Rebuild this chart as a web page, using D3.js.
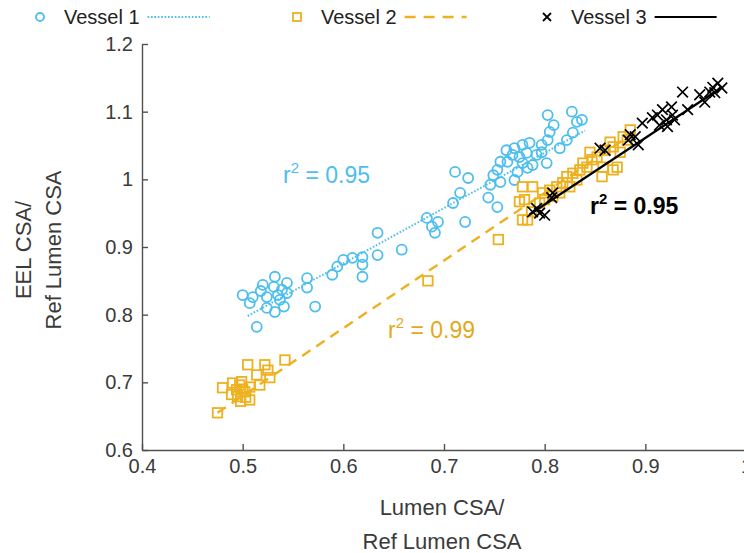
<!DOCTYPE html>
<html><head><meta charset="utf-8">
<script src="https://cdn.jsdelivr.net/npm/d3@7"></script>
<style>
body{margin:0;background:#fff}
svg{display:block}
text{font-family:"Liberation Sans",Arial,Helvetica,sans-serif}
</style>
</head><body>
<svg id="c" width="744" height="553"></svg>
<script>
// ---- data ----
const seriesNames = ["Vessel 1", "Vessel 2", "Vessel 3"];
const xTicks = [0.4, 0.5, 0.6, 0.7, 0.8, 0.9, 1.0];
const yTicks = [0.6, 0.7, 0.8, 0.9, 1.0, 1.1, 1.2];
const xTitle = ["Lumen CSA/", "Ref Lumen CSA"];
const yTitle = ["EEL CSA/", "Ref Lumen CSA"];

const v1x = [0.500,0.510,0.507,0.520,0.532,0.544,0.531,0.524,0.537,0.544,0.532,0.524,0.514,0.564,0.564,0.572,0.589,0.594,0.600,0.609,0.619,0.619,0.619,0.634,0.535,0.539,0.518,0.541,
  0.803,0.827,0.809,0.805,0.832,0.837,0.828,0.822,0.815,0.803,0.797,0.785,0.778,0.770,0.762,0.768,0.775,0.782,0.792,0.797,0.788,0.802,0.783,0.778,0.773,0.770,0.763,0.756,0.753,0.749,0.746,0.756,0.711,0.724,0.716,0.709,0.683,0.694,0.688,0.691,0.721,0.744,0.753,0.634,0.658];
const v1y = [0.829,0.826,0.817,0.844,0.856,0.847,0.841,0.826,0.822,0.832,0.804,0.810,0.782,0.854,0.840,0.812,0.859,0.871,0.881,0.884,0.885,0.874,0.856,0.888,0.829,0.837,0.835,0.812,
  1.095,1.100,1.080,1.070,1.085,1.088,1.069,1.058,1.046,1.058,1.051,1.054,1.051,1.046,1.043,1.036,1.033,1.039,1.036,1.040,1.021,1.024,1.017,1.024,1.011,0.999,1.026,1.026,1.014,1.006,0.992,0.996,1.011,1.002,0.980,0.965,0.943,0.937,0.930,0.921,0.937,0.973,0.959,0.921,0.896];

const v2x = [0.475,0.480,0.490,0.494,0.497,0.499,0.495,0.502,0.507,0.507,0.489,0.505,0.514,0.522,0.525,0.527,0.517,0.542,0.500,0.503,0.498,
  0.684,0.754,0.778,0.787,0.775,0.778,0.783,
  0.885,0.878,0.872,0.857,0.847,0.842,0.835,0.828,0.822,0.818,0.812,0.805,0.798,0.788,0.780,0.860,0.868,0.882,0.852,0.832,0.825,0.815,0.858,0.795,0.808,0.838,0.845,0.865,0.875,0.800,0.868];
const v2y = [0.655,0.692,0.699,0.689,0.696,0.701,0.679,0.686,0.693,0.674,0.682,0.726,0.711,0.726,0.718,0.707,0.696,0.733,0.690,0.678,0.672,
  0.850,0.911,0.940,0.952,0.967,0.989,0.940,
  1.073,1.063,1.018,1.004,1.029,1.018,1.014,1.009,1.004,0.995,0.989,0.984,0.980,0.989,0.970,1.043,1.048,1.058,1.033,0.999,0.989,0.980,1.018,0.965,0.975,1.024,1.040,1.055,1.040,0.970,1.014];

const v3x = [0.788,0.795,0.800,0.808,0.807,0.855,0.860,0.885,0.890,0.893,0.897,0.907,0.912,0.914,0.917,0.921,0.922,0.926,0.927,0.929,0.937,0.942,0.954,0.959,0.967,0.972,0.976,0.969,0.964,0.883,0.792];
const v3y = [0.952,0.950,0.947,0.980,0.973,1.046,1.043,1.066,1.063,1.051,1.083,1.091,1.095,1.080,1.103,1.088,1.078,1.107,1.095,1.088,1.129,1.103,1.125,1.114,1.136,1.142,1.135,1.128,1.129,1.058,0.957];

const fit1x = [0.505, 0.840], fit1y = [0.798, 1.072];
const fit2x = [0.475, 0.890], fit2y = [0.655, 1.070];
const fit3x = [0.785, 0.975], fit3y = [0.948, 1.135];

const r2Labels = ["0.95", "0.99", "0.95"];

// ---- drawing ----
const C1 = "#4DBEEE", C2 = "#EDB120", C3 = "#000000";
const svg = d3.select("#c");
const x = d3.scaleLinear().domain([0.4, 1.0]).range([142, 746]);
const y = d3.scaleLinear().domain([0.6, 1.2]).range([450, 44]);
const fmt = d => (Math.abs(d - 1) < 1e-9 ? "1" : d3.format(".1f")(d));

const gx = svg.append("g").attr("transform", "translate(0,450)")
  .call(d3.axisBottom(x).tickValues(xTicks).tickFormat(fmt).tickSizeInner(-6).tickSizeOuter(0).tickPadding(9));
const gy = svg.append("g").attr("transform", "translate(142,0)")
  .call(d3.axisLeft(y).tickValues(yTicks).tickFormat(fmt).tickSizeInner(-6).tickSizeOuter(0).tickPadding(9));
[gx, gy].forEach(g => {
  g.select(".domain").attr("stroke", "#505050").attr("stroke-width", 1.4);
  g.selectAll(".tick line").attr("stroke", "#505050").attr("stroke-width", 1.4);
  g.selectAll(".tick text").attr("fill", "#3a3a3a").style("font-size", "20px").style("font-family", '"Liberation Sans",Arial,sans-serif');
});

// axis titles
svg.append("g").selectAll("text").data(xTitle).join("text")
  .attr("x", 442).attr("y", (d, i) => 515 + i * 34).attr("text-anchor", "middle")
  .attr("fill", "#3a3a3a").style("font-size", "22px").text(d => d);
svg.append("g").selectAll("text").data(yTitle).join("text")
  .attr("transform", (d, i) => `translate(${31 + i * 30},250) rotate(-90)`)
  .attr("text-anchor", "middle").attr("fill", "#3a3a3a").style("font-size", "22px").text(d => d);

const line = d3.line().x(d => x(d[0])).y(d => y(d[1]));

// vessel 1 circles
svg.append("g").selectAll("circle").data(d3.zip(v1x, v1y)).join("circle")
  .attr("cx", d => x(d[0])).attr("cy", d => y(d[1])).attr("r", 5)
  .attr("fill", "none").attr("stroke", C1).attr("stroke-width", 1.8);
svg.append("path").datum(d3.zip(fit1x, fit1y)).attr("d", line)
  .attr("stroke", C1).attr("stroke-width", 2).attr("stroke-dasharray", "1.6,1.8").attr("fill", "none");

// vessel 2 squares
const sq = 9.5;
svg.append("g").selectAll("rect").data(d3.zip(v2x, v2y)).join("rect")
  .attr("x", d => x(d[0]) - sq / 2).attr("y", d => y(d[1]) - sq / 2).attr("width", sq).attr("height", sq)
  .attr("fill", "none").attr("stroke", C2).attr("stroke-width", 1.8);
svg.append("path").datum(d3.zip(fit2x, fit2y)).attr("d", line)
  .attr("stroke", C2).attr("stroke-width", 2.4).attr("stroke-dasharray", "10,7").attr("fill", "none");

// vessel 3 crosses
const cr = 5.3;
const crossPath = d => { const cx = x(d[0]), cy = y(d[1]);
  return `M${cx-cr},${cy-cr}L${cx+cr},${cy+cr}M${cx-cr},${cy+cr}L${cx+cr},${cy-cr}`; };
svg.append("g").selectAll("path").data(d3.zip(v3x, v3y)).join("path")
  .attr("d", crossPath).attr("stroke", C3).attr("stroke-width", 1.7).attr("fill", "none");
svg.append("path").datum(d3.zip(fit3x, fit3y)).attr("d", line)
  .attr("stroke", C3).attr("stroke-width", 2.2).attr("fill", "none");

// r^2 labels
const r2pos = [[283, 183, C1, "normal"], [388, 338, "#E3A91A", "normal"], [590, 214, C3, "bold"]];
r2pos.forEach((p, i) => {
  const t = svg.append("text").attr("x", p[0]).attr("y", p[1]).attr("fill", p[2])
    .style("font-size", "23px").style("font-weight", p[3]);
  t.append("tspan").text("r");
  t.append("tspan").attr("dy", -10).style("font-size", "15px").text("2");
  t.append("tspan").attr("dy", 10).text(" = " + r2Labels[i]);
});

// legend
const leg = [
  {name: seriesNames[0], mx: 40, tx: 64, color: C1, type: "circle", dash: "1.6,1.8", lw: 2},
  {name: seriesNames[1], mx: 297, tx: 321, color: C2, type: "square", dash: "11,8", lw: 2.4},
  {name: seriesNames[2], mx: 547, tx: 571, color: C3, type: "cross", dash: null, lw: 2.2}
];
const ly = 17;
leg.forEach(l => {
  const g = svg.append("g");
  if (l.type === "circle") g.append("circle").attr("cx", l.mx).attr("cy", ly).attr("r", 4)
    .attr("fill", "none").attr("stroke", l.color).attr("stroke-width", 1.8);
  if (l.type === "square") g.append("rect").attr("x", l.mx - 4).attr("y", ly - 4).attr("width", 8).attr("height", 8)
    .attr("fill", "none").attr("stroke", l.color).attr("stroke-width", 1.8);
  if (l.type === "cross") g.append("path")
    .attr("d", `M${l.mx-4},${ly-4}L${l.mx+4},${ly+4}M${l.mx-4},${ly+4}L${l.mx+4},${ly-4}`)
    .attr("stroke", l.color).attr("stroke-width", 1.8);
  const t = g.append("text").attr("x", l.tx).attr("y", ly + 7).attr("fill", "#222")
    .style("font-size", "20px").text(l.name);
  const w = t.node().getComputedTextLength();
  const lx0 = l.tx + w + 8;
  const p = g.append("line").attr("x1", lx0).attr("x2", lx0 + 62).attr("y1", ly).attr("y2", ly)
    .attr("stroke", l.color).attr("stroke-width", l.lw);
  if (l.dash) p.attr("stroke-dasharray", l.dash);
});
</script>
</body></html>
